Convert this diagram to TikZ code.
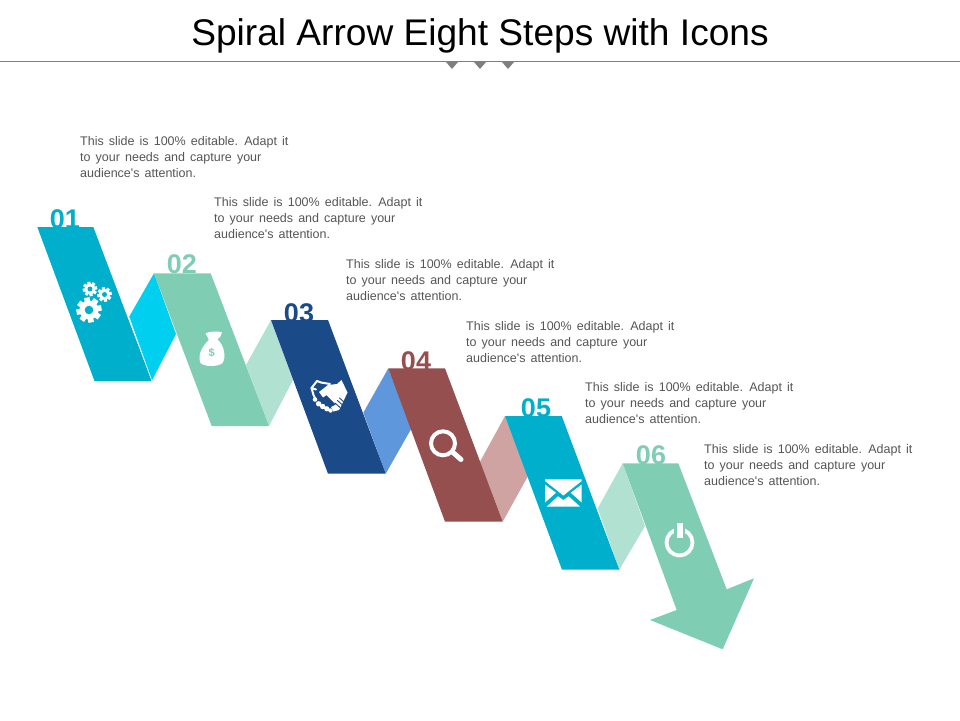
\documentclass[tikz,border=0pt]{standalone}
\usepackage{fontspec}
\setmainfont{Liberation Sans}
\definecolor{teal1}{HTML}{00AFCB}
\definecolor{cyan1}{HTML}{00CFEF}
\definecolor{mint}{HTML}{7FCEB4}
\definecolor{mintl}{HTML}{B0E1D1}
\definecolor{navy}{HTML}{1B4A88}
\definecolor{sky}{HTML}{5F97DC}
\definecolor{brick}{HTML}{944F4E}
\definecolor{rose}{HTML}{CFA3A2}
\definecolor{txt}{HTML}{555555}
\definecolor{rulec}{HTML}{7F7F7F}
\tikzset{
  titletext/.style={font=\fontsize{37.1}{40}\selectfont,text=black,inner sep=0pt,anchor=base},
  body/.style={font=\fontsize{12.5}{16}\selectfont,text=txt,inner sep=0pt,align=left,anchor=north west,text width=240pt},
  num/.style={font=\bfseries\fontsize{27}{27}\selectfont,inner sep=0pt},
}
\newcommand{\gearicon}[4]{% x,y,r,bg
  \foreach \a in {0,45,...,315}{
    \fill[white,shift={(#1,#2)},rotate=\a+10] (-0.22*#3,0) rectangle (0.22*#3,-#3);
  }
  \fill[white] (#1,#2) circle ({0.76*#3});
  \fill[#4] (#1,#2) circle ({0.34*#3});
}
\newcommand{\bodytext}{\spaceskip=5.1pt\relax This slide is 100\% editable. Adapt it\\to your needs and capture your\\audience\textquotesingle s attention.}
\begin{document}
\begin{tikzpicture}[x=1pt,y=-1pt]
\useasboundingbox (0,0) rectangle (960,720);
\node[titletext] (title) at (480,45) {Spiral Arrow Eight Steps with Icons};
\draw[rulec,line width=0.8pt] (0,61.5) -- (960,61.5);
\foreach \x in {452,480,508}{\fill[rulec] (\x-6,62) -- (\x+6,62) -- (\x,69) -- cycle;}

% folds
\fill[cyan1] (154,273.3) -- (129,317) -- (151.7,381) -- (176,334) -- cycle;
\fill[mintl] (271,320) -- (246,365) -- (269,426) -- (293,380) -- cycle;
\fill[sky] (388.3,368.3) -- (363.3,412.7) -- (385.7,473.7) -- (411.7,428) -- cycle;
\fill[rose] (505,416) -- (480,461.7) -- (502.7,521.7) -- (528,476) -- cycle;
\fill[mintl] (622.7,463.3) -- (597.7,508.3) -- (619.3,569.7) -- (645,526) -- cycle;

% numbers
\node[num,text=teal1] (n1) at (65,219) {01};
\node[num,text=mint] (n2) at (182,264) {02};
\node[num,text=navy] (n3) at (299,313) {03};
\node[num,text=brick] (n4) at (416,361) {04};
\node[num,text=teal1] (n5) at (536,408) {05};
\node[num,text=mint] (n6) at (651,455) {06};

% bands
\fill[teal1] (37.3,227) -- (93.3,227) -- (151.7,381) -- (94.5,381) -- cycle;
\draw[white,line width=0.6pt] (129,317) -- (151.9,381);
\fill[mint] (154,273.3) -- (210.7,273.3) -- (269,426) -- (211.7,426) -- cycle;
\fill[navy] (271,320) -- (328,320) -- (385.7,473.7) -- (328,473.7) -- cycle;
\fill[brick] (388.3,368.3) -- (445,368.3) -- (502.7,521.7) -- (445,521.7) -- cycle;
\fill[teal1] (505,416) -- (561.7,416) -- (619.3,569.7) -- (562,569.7) -- cycle;
\fill[mint] (622.7,463.3) -- (678.3,463.3) -- (726.7,589.3) -- (754,578.3) -- (722.7,649.3) -- (650,620) -- (676.7,610) -- cycle;

% texts
\node[body] (t1) at (80,136) {\bodytext};
\node[body] (t2) at (214,197) {\bodytext};
\node[body] (t3) at (346,259) {\bodytext};
\node[body] (t4) at (466,321) {\bodytext};
\node[body] (t5) at (585,382) {\bodytext};
\node[body] (t6) at (704,444) {\bodytext};

% gears
\gearicon{89}{310}{12.6}{teal1}
\gearicon{90}{289}{7.3}{teal1}
\gearicon{104.5}{294.5}{7.3}{teal1}

% money bag
\fill[white] (205.5,333.5) .. controls (209,331.5) and (218,330.5) .. (222,332.5) .. controls (222,335.5) and (219,338) .. (217.5,339.5) .. controls (225,346) and (226,358) .. (222.5,363) .. controls (218,367) and (204,367) .. (200.5,363) .. controls (197,355) and (203,345) .. (209,340) .. controls (208,337.5) and (206.5,335.5) .. (205.5,333.5) -- cycle;
\node[text=mint,font=\bfseries\fontsize{11}{11}\selectfont,inner sep=0pt] (dollar) at (211.7,353.2) {\$};

% handshake
\begin{scope}[line cap=round,line join=round]
\draw[white,line width=2pt] (316,389.5) -- (311.5,388) -- (317,381) -- (321,382.5) -- (330,384);
\draw[white,line width=2pt] (311.5,388) -- (313.5,395) -- (315,398);
\fill[white] (319,392) -- (328,385) -- (337,384) -- (341.5,380) -- (347.5,392.5) -- (343,402) -- (339,410) -- (333.5,411.5) -- (331,407) -- (336,404.5) -- (326.5,395) -- (323,397.5) -- cycle;
\draw[navy,line width=0.9pt] (335,403) -- (340,407.5) (337.5,400.5) -- (342.5,405) (339.5,398) -- (344.5,402.5);
\fill[white] (315,399.5) circle (2.3) (318.6,403.8) circle (2.7) (322.7,406.5) circle (2.7) (326.8,408.8) circle (2.6) (330.5,410.5) circle (2.2);
\end{scope}

% magnifier
\draw[white,line width=4pt] (443,443.3) circle (12);
\draw[white,line width=5pt,line cap=round] (452.5,452) -- (461,459.5);

% envelope
\fill[white] (545,479.3) -- (581.7,479.3) -- (581.7,481) -- (563.3,495.5) -- (545,481) -- cycle;
\fill[white] (545,484.5) -- (556,492.7) -- (545,502.5) -- cycle;
\fill[white] (581.7,484.5) -- (570.7,492.7) -- (581.7,502.5) -- cycle;
\fill[white] (546.5,506.7) -- (558,496.3) -- (563.3,500) -- (568.7,496.3) -- (580.2,506.7) -- cycle;

% power icon
\draw[white,line width=3.8pt] (679.5,542.5) circle (13);
\fill[mint] (674,522) rectangle (685,537);
\fill[white] (676.7,522.7) rectangle (682.7,538);
\end{tikzpicture}
\end{document}
